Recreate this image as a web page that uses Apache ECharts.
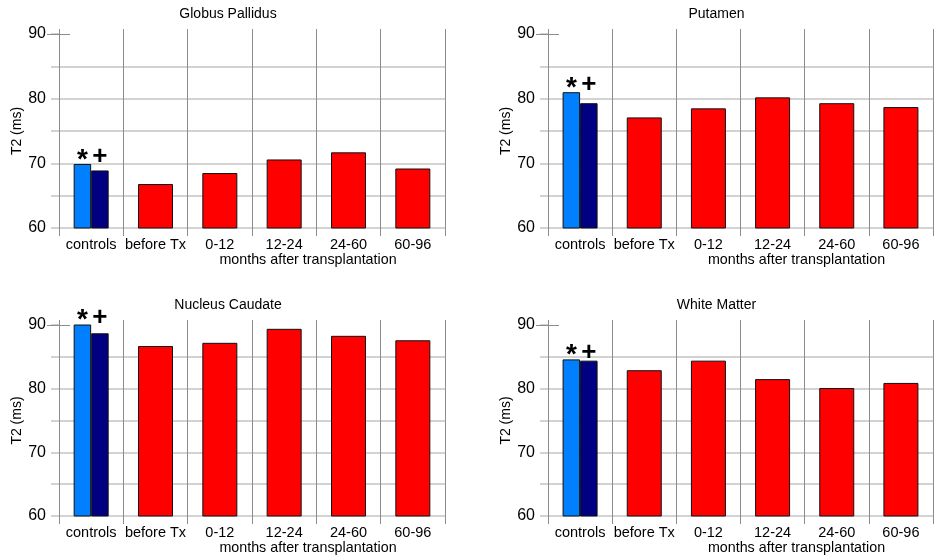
<!DOCTYPE html>
<html>
<head>
<meta charset="utf-8">
<script src="https://cdn.jsdelivr.net/npm/echarts@6/dist/echarts.min.js"></script>
<style>
html,body{margin:0;padding:0;background:#fff;}
#chart{width:935px;height:556px;}
</style>
</head>
<body>
<div id="chart"></div>
<script>
// ---- data ----
const categories = ['controls', 'before Tx', '0-12', '12-24', '24-60', '60-96'];
const panelTitles = ['Globus Pallidus', 'Putamen', 'Nucleus Caudate', 'White Matter'];
const xAxisTitle = 'months after transplantation';
const yAxisTitle = 'T2 (ms)';
const controlMarks = ['*', '+'];

// controls: [first control group, second control group]
const globusControls = [69.9, 68.9];
const putamenControls = [81.0, 79.3];
const caudateControls = [90.2, 88.7];
const whiteControls = [84.6, 84.4];

// patients: before Tx, 0-12, 12-24, 24-60, 60-96 months
const globusPatients = [66.8, 68.5, 70.6, 71.7, 69.2];
const putamenPatients = [77.1, 78.5, 80.2, 79.3, 78.7];
const caudatePatients = [86.7, 87.2, 89.4, 88.3, 87.6];
const whitePatients = [82.9, 84.4, 81.5, 80.1, 80.9];

const yMin = 60, yMax = 90, yStep = 10;

const panelControls = [globusControls, putamenControls, caudateControls, whiteControls];
const panelPatients = [globusPatients, putamenPatients, caudatePatients, whitePatients];

// ---- layout ----
const FONT = '"Liberation Sans", Arial, sans-serif';
const grids = [
  {left: 59, top: 34, width: 386, height: 194},
  {left: 548, top: 34, width: 385, height: 194},
  {left: 59, top: 325, width: 386, height: 194},
  {left: 548, top: 325, width: 385, height: 194}
];
const titleY = [7, 7, 298, 298];
const vGrid = '#8c8c8c';
const hGrid = '#c4c4c4';

const option = {
  animation: false,
  backgroundColor: '#fff',
  title: [], grid: [], xAxis: [], yAxis: [], series: []
};

grids.forEach((g, i) => {
  option.grid.push({left: g.left, top: g.top, width: g.width, height: g.height, containLabel: false});
  option.title.push({
    text: panelTitles[i], left: g.left + g.width / 2 - 24, top: titleY[i], textAlign: 'center', padding: 0,
    textStyle: {fontFamily: FONT, fontSize: 14, fontWeight: 'normal', color: '#000'}
  });
  // main category axis (controls)
  option.xAxis.push({
    type: 'category', gridIndex: i, data: categories, boundaryGap: true, position: 'bottom',
    axisLine: {show: false},
    axisTick: {show: true, length: 8, interval: 0, lineStyle: {color: vGrid, width: 1}},
    splitLine: {show: true, interval: 0, lineStyle: {color: vGrid, width: 1}},
    axisLabel: {interval: 0, margin: 9, color: '#000', fontFamily: FONT, fontSize: 14.5},
    name: xAxisTitle, nameLocation: 'middle', nameGap: 25,
    nameTextStyle: {color: '#000', fontFamily: FONT, fontSize: 14.3, padding: [0, 0, 0, 112]}
  });
  // overlay category axis (patients) with top tick extension
  option.xAxis.push({
    type: 'category', gridIndex: i, data: categories, boundaryGap: true, position: 'top',
    axisLine: {show: false},
    axisTick: {show: true, length: 5, interval: 0, lineStyle: {color: vGrid, width: 1}},
    splitLine: {show: false},
    axisLabel: {show: false}
  });
  option.yAxis.push({
    type: 'value', gridIndex: i, min: yMin, max: yMax, interval: yStep, position: 'left',
    axisLine: {show: false},
    axisTick: {show: true, length: 8, lineStyle: {color: hGrid, width: 1.5}},
    minorTick: {show: true, splitNumber: 2, length: 8, lineStyle: {color: hGrid, width: 1.5}},
    splitLine: {show: true, lineStyle: {color: [hGrid, hGrid, hGrid, 'rgba(0,0,0,0)'], width: 1.5}},
    minorSplitLine: {show: true, lineStyle: {color: hGrid, width: 1.5}},
    axisLabel: {margin: 13, color: '#000', fontFamily: FONT, fontSize: 16},
    name: yAxisTitle, nameLocation: 'middle', nameGap: 34, nameRotate: 90,
    nameTextStyle: {color: '#000', fontFamily: FONT, fontSize: 14}
  });
  option.yAxis.push({
    type: 'value', gridIndex: i, min: yMin, max: yMax, interval: yMax - yMin, position: 'left', offset: 12,
    axisLine: {show: false},
    axisTick: {show: true, inside: true, length: 23, customValues: [yMax], lineStyle: {color: vGrid, width: 1}},
    splitLine: {show: false},
    axisLabel: {show: false}
  });

  const ctrl = panelControls[i];
  const pats = panelPatients[i];
  const ctrlColors = ['#0080ff', '#000080'];
  ctrl.forEach((v, k) => {
    const s = {
      type: 'bar', name: 'controls ' + (k + 1), xAxisIndex: 2 * i, yAxisIndex: 2 * i,
      barWidth: 17.5, barGap: '0%',
      data: categories.map((c, j) => j === 0 ? v : '-'),
      itemStyle: {color: ctrlColors[k], borderColor: '#111', borderWidth: 1},
      silent: true
    };
    if (k === 0) {
      s.label = {
        show: true, position: 'top', distance: 0, offset: [8.75, 10],
        formatter: '{s|' + controlMarks[0] + '}{p|' + controlMarks[1] + '}',
        rich: {
          s: {width: 17.5, align: 'center', fontSize: 28, fontWeight: 'bold', fontFamily: FONT, color: '#000', padding: [6, 0, 0, 0]},
          p: {width: 17.5, align: 'center', fontSize: 26, fontWeight: 'bold', fontFamily: FONT, color: '#000'}
        }
      };
    }
    option.series.push(s);
  });
  option.series.push({
    type: 'bar', name: 'patients', xAxisIndex: 2 * i + 1, yAxisIndex: 2 * i,
    barWidth: 35,
    data: categories.map((c, j) => j === 0 ? '-' : pats[j - 1]),
    itemStyle: {color: '#ff0000', borderColor: '#111', borderWidth: 1},
    silent: true
  });
});

const chart = echarts.init(document.getElementById('chart'), null, {renderer: 'canvas'});
chart.setOption(option);
</script>
</body>
</html>
